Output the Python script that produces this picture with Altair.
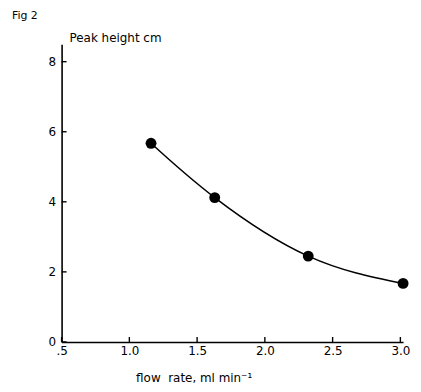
import altair as alt
import pandas as pd

# data
flow_rate = [1.16, 1.63, 2.32, 3.02]
peak_height = [5.67, 4.12, 2.45, 1.67]

x_ticks = [0.5, 1.0, 1.5, 2.0, 2.5, 3.0]
y_ticks = [0, 2, 4, 6, 8]

x_title = "flow\u00a0\u00a0rate, ml min\u207b\u00b9"
y_title = "Peak height cm"
fig_label = "Fig 2"

df = pd.DataFrame({"flow": flow_rate, "height": peak_height})
xt = pd.DataFrame({"t": x_ticks})
yt = pd.DataFrame({"t": y_ticks})

W, H = 344, 300
FONT = "DejaVu Sans"

xscale = alt.Scale(domain=[0.5, 3.02], nice=False, zero=False)
yscale = alt.Scale(domain=[0, 8.5], nice=False)

xaxis = alt.Axis(
    values=x_ticks, ticks=False, grid=False, title=x_title,
    labelExpr="datum.value == 0.5 ? '.5' : format(datum.value, '.1f')",
    labelFont=FONT, labelFontSize=12, labelColor="black", labelPadding=4,
    titleFont=FONT, titleFontSize=12, titleFontWeight="normal", titleColor="black",
    titlePadding=16, titleX=133,
    domainColor="black", domainWidth=1.6, labelFlush=False,
)
yaxis = alt.Axis(
    values=y_ticks, ticks=False, grid=False, title=None,
    labelFont=FONT, labelFontSize=12, labelColor="black", labelPadding=6,
    domainColor="black", domainWidth=1.6,
)

base = alt.Chart(df)

line = base.mark_line(interpolate="natural", color="black", strokeWidth=1.5).encode(
    x=alt.X("flow:Q", scale=xscale, axis=xaxis),
    y=alt.Y("height:Q", scale=yscale, axis=yaxis),
)
pts = base.mark_circle(color="black", opacity=1, size=120).encode(
    x=alt.X("flow:Q", scale=xscale),
    y=alt.Y("height:Q", scale=yscale),
)

xticks = alt.Chart(xt).mark_rule(color="black", strokeWidth=1.4).encode(
    x=alt.X("t:Q", scale=xscale),
    y=alt.value(H), y2=alt.value(H - 5),
)
yticks = alt.Chart(yt).mark_rule(color="black", strokeWidth=1.4).encode(
    y=alt.Y("t:Q", scale=yscale),
    x=alt.value(0), x2=alt.value(5),
)

ytitle = alt.Chart(pd.DataFrame({"s": [y_title]})).mark_text(
    align="left", baseline="middle", font=FONT, fontSize=12, color="black"
).encode(text="s:N", x=alt.value(8), y=alt.value(-6))

figlab = alt.Chart(pd.DataFrame({"s": [fig_label]})).mark_text(
    align="left", baseline="middle", font=FONT, fontSize=11, color="black"
).encode(text="s:N", x=alt.value(-50), y=alt.value(-28))

chart = alt.layer(xticks, yticks, line, pts, ytitle, figlab).properties(
    width=W, height=H,
    autosize=alt.AutoSizeParams(type="none"),
    padding={"left": 54, "top": 35, "right": 10, "bottom": 48},
).configure(
    background="white",
    view=alt.ViewConfig(stroke="transparent", strokeWidth=0),
)

chart.save("out.html", embed_options={"renderer": "svg", "actions": False})
